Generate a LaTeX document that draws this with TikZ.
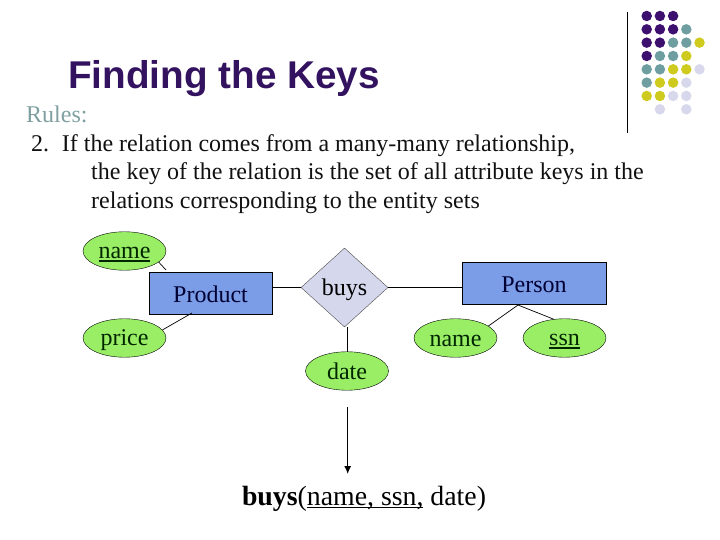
\documentclass[tikz,border=0pt]{standalone}
\usepackage{fontspec}
\setmainfont{Liberation Serif}
\newfontfamily\headfont{Liberation Sans}
\usetikzlibrary{shapes.geometric,arrows.meta}
\definecolor{dp}{HTML}{3D0F6E}
\definecolor{dt}{HTML}{6F9EA0}
\definecolor{dy}{HTML}{CFCB1E}
\definecolor{dl}{HTML}{D8D8EC}
\definecolor{titlec}{HTML}{33135F}
\definecolor{rulec}{HTML}{7F9FA0}
\definecolor{bodyc}{HTML}{111111}
\definecolor{entc}{HTML}{7B9CE6}
\definecolor{attc}{HTML}{99EE66}
\definecolor{relc}{HTML}{D5D7EC}
\newcommand\ulmark[3]{\sbox0{#3}\rlap{\rule[-#1]{\wd0}{#2}}\box0\relax}
\newcommand\dropby[2]{\raisebox{-#1}[\height][\depth]{#2}}
\tikzset{
  x=1bp,y=-1bp,
  dot/.style={circle,inner sep=0pt,minimum size=10.5bp},
  attr/.style={ellipse,draw=black,fill=attc,inner sep=0pt,minimum width=83bp,minimum height=38.5bp,font=\fontsize{24bp}{26bp}\selectfont,text=black!85!green},
  ent/.style={rectangle,draw=black,fill=entc,inner sep=0pt,font=\fontsize{24bp}{26bp}\selectfont,text=black!80!blue},
  rel/.style={diamond,draw=black!70,fill=relc,inner sep=0pt,minimum width=87bp,minimum height=79bp,font=\fontsize{24bp}{26bp}\selectfont},
  conn/.style={draw=black,line width=0.7bp},
  txt/.style={inner sep=0pt,anchor=base west,text=bodyc,font=\fontsize{24bp}{26bp}\selectfont}
}
\begin{document}
\begin{tikzpicture}
\useasboundingbox (0,0) rectangle (720,540);
\foreach \c/\r/\k in {
 1/1/dp,2/1/dp,3/1/dp,
 1/2/dp,2/2/dp,3/2/dp,4/2/dt,
 1/3/dp,2/3/dp,3/3/dt,4/3/dt,5/3/dy,
 1/4/dp,2/4/dt,3/4/dt,4/4/dy,
 1/5/dt,2/5/dt,3/5/dy,4/5/dy,5/5/dl,
 1/6/dt,2/6/dy,3/6/dy,4/6/dl,
 1/7/dy,2/7/dy,3/7/dl,4/7/dl,
 2/8/dl,4/8/dl}
  \node[dot,fill=\k] (d\c-\r) at ({646.7+13.2*(\c-1)},{16+13.33*(\r-1)}) {};
\coordinate (vt) at (627.5,12);
\coordinate (vb) at (627.5,133);
\draw[line width=0.8bp,black] (vt) -- (vb);
\node[inner sep=0pt,anchor=base west,text=titlec,font=\headfont\bfseries\fontsize{38.7bp}{42bp}\selectfont] (title) at (68,89) {Finding the Keys};
\node[txt,text=rulec] (r0) at (26,123) {Rules:};
\node[txt] (r1) at (31,152) {\makebox[30.7bp][l]{2.}If the relation comes from a many-many relationship,};
\node[txt] (r2) at (91,180) {the key of the relation is the set of all attribute keys in the};
\node[txt] (r3) at (91,208.5) {relations corresponding to the entity sets};
\node[attr] (aname) at (124.5,251) {\dropby{3.5bp}{\ulmark{3bp}{1.6bp}{name}}};
\node[attr] (aprice) at (124.5,338) {\dropby{2.5bp}{price}};
\node[ent,minimum width=123bp,minimum height=42bp] (product) at (210.5,293) {\dropby{1bp}{Product}};
\node[rel] (buys) at (344.5,287.5) {\dropby{2bp}{buys}};
\node[attr] (adate) at (347,371) {date};
\node[ent,minimum width=144bp,minimum height=42bp] (person) at (534,283) {\dropby{1.5bp}{Person}};
\node[attr] (pname) at (455.5,338) {\dropby{2.5bp}{name}};
\node[attr] (pssn) at (564.5,338) {\dropby{3.5bp}{\ulmark{3bp}{1.6bp}{ssn}}};
\coordinate (pn) at (166,270);
\coordinate (pp) at (192,313);
\coordinate (pb) at (518,305);
\draw[conn] (aname.-18) -- (pn);
\draw[conn] (aprice.12) -- (pp);
\draw[conn] (product.east |- buys.west) -- (buys.west);
\draw[conn] (buys.south -| adate.north) -- (adate.north);
\draw[conn] (buys.east) -- (person.west |- buys.east);
\draw[conn] (pb) -- (pname.20);
\draw[conn] (pb) -- (pssn.120);
\node[inner sep=0pt,anchor=base,text=black,font=\fontsize{27.8bp}{30bp}\selectfont] (res) at (364,505) {\textbf{buys}(\ulmark{3bp}{1.1bp}{name, ssn,} date)};
\coordinate (as) at (347.7,407);
\coordinate (ae) at (347.7,474);
\draw[conn,line width=1.2bp,-{Latex[length=8bp,width=7bp]}] (as) -- (ae);
\end{tikzpicture}
\end{document}
